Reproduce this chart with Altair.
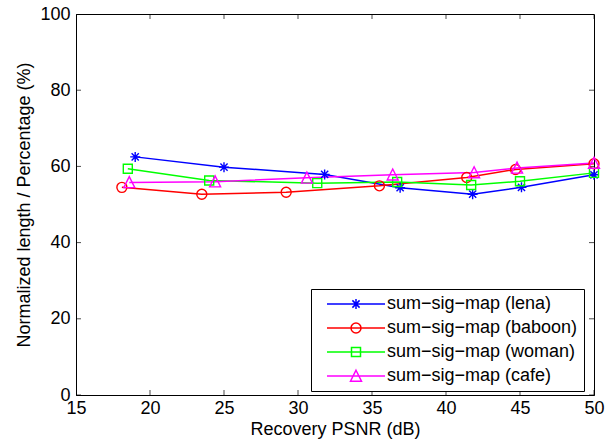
import altair as alt
import pandas as pd

# ---- data ----
series_names = ["sum−sig−map (lena)", "sum−sig−map (baboon)",
                "sum−sig−map (woman)", "sum−sig−map (cafe)"]
psnr_lena = [19.0, 25.0, 31.8, 36.9, 41.8, 45.1, 50.0]
len_lena = [62.5, 59.8, 57.9, 54.4, 52.7, 54.5, 57.8]
psnr_baboon = [18.1, 23.5, 29.2, 35.5, 41.4, 44.7, 50.0]
len_baboon = [54.5, 52.7, 53.2, 54.9, 57.1, 59.2, 60.7]
psnr_woman = [18.5, 24.0, 31.3, 36.7, 41.7, 45.0, 50.0]
len_woman = [59.4, 56.3, 55.6, 55.9, 55.1, 56.1, 58.3]
psnr_cafe = [18.6, 24.4, 30.6, 36.4, 41.9, 44.8, 50.0]
len_cafe = [55.8, 56.0, 57.0, 57.8, 58.4, 59.6, 60.9]
x_ticks = [15, 20, 25, 30, 35, 40, 45, 50]
y_ticks = [0, 20, 40, 60, 80, 100]

colors = ["#0000ff", "#ff0000", "#00ff00", "#ff00ff"]

# marker shapes (custom paths, unit = 5 px at size 100)
star = "M0,-1V1M-1,0H1M-0.72,-0.72L0.72,0.72M-0.72,0.72L0.72,-0.72"
circ = "M1,0A1,1,0,1,1,-1,0A1,1,0,1,1,1,0Z"
sq = "M-0.9,-0.9H0.9V0.9H-0.9Z"
tri = "M0,-1.15L1.1,1.05L-1.1,1.05Z"
markers = [star, circ, sq, tri]

# legend glyphs: line with marker in the middle
lx0, lx1, mx = 0.2, 11.8, 6.0
leg_star = (f"M{lx0},0H{lx1}M{mx},-1V1M{mx-1},0H{mx+1}"
            f"M{mx-0.72},-0.72L{mx+0.72},0.72M{mx-0.72},0.72L{mx+0.72},-0.72")
leg_circ = f"M{lx0},0H{lx1}M{mx+1},0A1,1,0,1,1,{mx-1},0A1,1,0,1,1,{mx+1},0Z"
leg_sq = f"M{lx0},0H{lx1}M{mx-0.9},-0.9H{mx+0.9}V0.9H{mx-0.9}Z"
leg_tri = f"M{lx0},0H{lx1}M{mx},-1.15L{mx+1.1},1.05L{mx-1.1},1.05Z"
leg_markers = [leg_star, leg_circ, leg_sq, leg_tri]

rows = []
for name, xs, ys in zip(series_names,
                        [psnr_lena, psnr_baboon, psnr_woman, psnr_cafe],
                        [len_lena, len_baboon, len_woman, len_cafe]):
    for a, b in zip(xs, ys):
        rows.append({"series": name, "psnr": a, "len": b})
df = pd.DataFrame(rows)

FONT = "Liberation Sans"
xscale = alt.Scale(domain=[15, 50], nice=False, zero=False)
yscale = alt.Scale(domain=[0, 100], nice=False, zero=False)

X = alt.X("psnr:Q", scale=xscale,
          axis=alt.Axis(values=x_ticks, title="Recovery PSNR (dB)", labelPadding=4,
                        titlePadding=3, labelFlush=False, labelOverlap=False))
Y = alt.Y("len:Q", scale=yscale,
          axis=alt.Axis(values=y_ticks, title="Normalized length / Percentage (%)",
                        labelPadding=6, titlePadding=6, labelFlush=False,
                        labelOverlap=False))

col_none = alt.Color("series:N", scale=alt.Scale(domain=series_names, range=colors),
                     legend=None)

lines = alt.Chart(df).mark_line(strokeWidth=1.5).encode(
    x=X, y=Y, color=col_none, detail="series:N")

points = alt.Chart(df).mark_point(filled=False, size=100, strokeWidth=1.4, opacity=1).encode(
    x="psnr:Q", y="len:Q", color=col_none,
    shape=alt.Shape("series:N", scale=alt.Scale(domain=series_names, range=markers),
                    legend=None))

legend = alt.Legend(title=None, orient="none", legendX=235, legendY=275,
                    strokeColor="black", fillColor="white", padding=6,
                    symbolSize=100, symbolStrokeWidth=1.5, symbolOpacity=1,
                    labelFont=FONT, labelFontSize=18, labelColor="black",
                    labelOffset=52, labelLimit=0, rowPadding=6, cornerRadius=0)

leg_layer = alt.Chart(df).mark_point(filled=False, size=100, opacity=0).encode(
    x="psnr:Q", y="len:Q",
    color=alt.Color("series:N", scale=alt.Scale(domain=series_names, range=colors),
                    legend=legend),
    shape=alt.Shape("series:N", scale=alt.Scale(domain=series_names, range=leg_markers),
                    legend=legend))

# inward tick marks (clipped to plot area)
tick_x_df = pd.DataFrame({"t": x_ticks * 2, "pos": [0] * len(x_ticks) + [100] * len(x_ticks)})
tick_y_df = pd.DataFrame({"t": y_ticks * 2, "pos": [15] * len(y_ticks) + [50] * len(y_ticks)})
ticks_x = alt.Chart(tick_x_df).mark_tick(orient="vertical", size=10, thickness=1,
                                          color="black", clip=True).encode(
    x=alt.X("t:Q", scale=xscale), y=alt.Y("pos:Q", scale=yscale))
ticks_y = alt.Chart(tick_y_df).mark_tick(orient="horizontal", size=10, thickness=1,
                                          color="black", clip=True).encode(
    y=alt.Y("t:Q", scale=yscale), x=alt.X("pos:Q", scale=xscale))

chart = alt.layer(ticks_x, ticks_y, lines, points, leg_layer).resolve_scale(
    color="independent", shape="independent"
).properties(
    width=518, height=381, autosize="none",
    padding={"left": 76, "top": 14, "right": 19, "bottom": 48},
    background="white"
).configure_view(stroke="black", strokeWidth=1).configure_axis(
    grid=False, ticks=False, domainColor="black", domainWidth=1,
    labelFont=FONT, labelFontSize=18, labelColor="black",
    titleFont=FONT, titleFontSize=18, titleFontWeight="normal", titleColor="black"
).configure_legend(labelFont=FONT)

chart.save("out.html", embed_options={"renderer": "svg", "actions": False})
